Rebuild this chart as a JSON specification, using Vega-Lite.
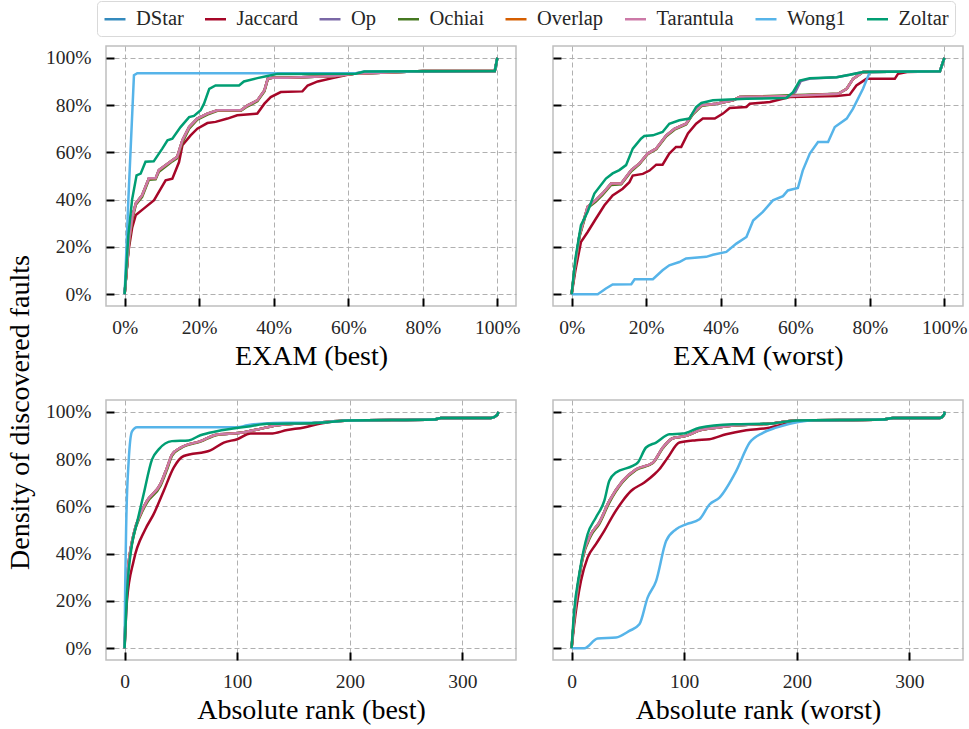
{
"$schema": "https://vega.github.io/schema/vega-lite/v6.json",
"background": "white",
"padding": {"left": 5, "top": 0, "right": 0, "bottom": 5},
"datasets": {
"eb": [
{"m":"DStar","x":0,"y":0},{"m":"DStar","x":1.2,"y":23},{"m":"DStar","x":2.1,"y":33},{"m":"DStar","x":3,"y":38.4},{"m":"DStar","x":4.7,"y":41.9},{"m":"DStar","x":6.5,"y":49},{"m":"DStar","x":8.3,"y":49},{"m":"DStar","x":9.2,"y":52.5},{"m":"DStar","x":12.8,"y":56.7},{"m":"DStar","x":14.1,"y":58.1},{"m":"DStar","x":15.5,"y":65.1},{"m":"DStar","x":17.3,"y":70.7},{"m":"DStar","x":19.5,"y":74.3},{"m":"DStar","x":22.2,"y":76.4},{"m":"DStar","x":24.9,"y":77.8},{"m":"DStar","x":31.2,"y":77.8},{"m":"DStar","x":33,"y":79.9},{"m":"DStar","x":35.6,"y":82},{"m":"DStar","x":37.5,"y":86.2},{"m":"DStar","x":38.4,"y":91.2},{"m":"DStar","x":39.7,"y":91.6},{"m":"DStar","x":43.7,"y":91.6},{"m":"DStar","x":56.3,"y":92.3},{"m":"DStar","x":61.6,"y":93.3},{"m":"DStar","x":74.2,"y":94},{"m":"DStar","x":80,"y":94.4},{"m":"DStar","x":99.3,"y":94.4},{"m":"DStar","x":100,"y":100},
{"m":"Jaccard","x":0,"y":0},{"m":"Jaccard","x":1,"y":18},{"m":"Jaccard","x":2,"y":28},{"m":"Jaccard","x":3,"y":33.5},{"m":"Jaccard","x":5.2,"y":36.3},{"m":"Jaccard","x":7.9,"y":39.8},{"m":"Jaccard","x":9.7,"y":44.7},{"m":"Jaccard","x":11,"y":48.2},{"m":"Jaccard","x":12.8,"y":48.9},{"m":"Jaccard","x":14.6,"y":55.9},{"m":"Jaccard","x":15.5,"y":63},{"m":"Jaccard","x":17.7,"y":67.2},{"m":"Jaccard","x":19.5,"y":70},{"m":"Jaccard","x":22.2,"y":72.4},{"m":"Jaccard","x":24.4,"y":72.9},{"m":"Jaccard","x":27.6,"y":74.3},{"m":"Jaccard","x":30.2,"y":75.7},{"m":"Jaccard","x":35.6,"y":76.4},{"m":"Jaccard","x":37.5,"y":80.6},{"m":"Jaccard","x":39.2,"y":83.4},{"m":"Jaccard","x":41.9,"y":85.5},{"m":"Jaccard","x":47.7,"y":85.8},{"m":"Jaccard","x":49.1,"y":88.3},{"m":"Jaccard","x":51.8,"y":90},{"m":"Jaccard","x":55.8,"y":91.4},{"m":"Jaccard","x":59.8,"y":92.8},{"m":"Jaccard","x":64.3,"y":94},{"m":"Jaccard","x":99.3,"y":94.4},{"m":"Jaccard","x":100,"y":100},
{"m":"Op","x":0,"y":0},{"m":"Op","x":1.2,"y":23},{"m":"Op","x":2.1,"y":33},{"m":"Op","x":3,"y":38.4},{"m":"Op","x":4.7,"y":41.9},{"m":"Op","x":6.5,"y":49},{"m":"Op","x":8.3,"y":49},{"m":"Op","x":9.2,"y":52.5},{"m":"Op","x":12.8,"y":56.7},{"m":"Op","x":14.1,"y":58.1},{"m":"Op","x":15.5,"y":65.1},{"m":"Op","x":17.3,"y":70.7},{"m":"Op","x":19.5,"y":74.3},{"m":"Op","x":22.2,"y":76.4},{"m":"Op","x":24.9,"y":77.8},{"m":"Op","x":31.2,"y":77.8},{"m":"Op","x":33,"y":79.9},{"m":"Op","x":35.6,"y":82},{"m":"Op","x":37.5,"y":86.2},{"m":"Op","x":38.4,"y":91.2},{"m":"Op","x":39.7,"y":91.6},{"m":"Op","x":43.7,"y":91.6},{"m":"Op","x":56.3,"y":92.3},{"m":"Op","x":61.6,"y":93.3},{"m":"Op","x":74.2,"y":94},{"m":"Op","x":80,"y":94.4},{"m":"Op","x":99.3,"y":94.4},{"m":"Op","x":100,"y":100},
{"m":"Ochiai","x":0,"y":0},{"m":"Ochiai","x":1.2,"y":22},{"m":"Ochiai","x":2.1,"y":32},{"m":"Ochiai","x":3,"y":37.8},{"m":"Ochiai","x":4.7,"y":41.2},{"m":"Ochiai","x":6.5,"y":48.4},{"m":"Ochiai","x":8.3,"y":48.6},{"m":"Ochiai","x":9.2,"y":51.8},{"m":"Ochiai","x":12.8,"y":56.2},{"m":"Ochiai","x":14.1,"y":57.5},{"m":"Ochiai","x":15.5,"y":64.2},{"m":"Ochiai","x":17.3,"y":70},{"m":"Ochiai","x":19.5,"y":73.8},{"m":"Ochiai","x":22.2,"y":76},{"m":"Ochiai","x":24.9,"y":77.6},{"m":"Ochiai","x":31.2,"y":77.6},{"m":"Ochiai","x":33,"y":79.5},{"m":"Ochiai","x":35.6,"y":81.6},{"m":"Ochiai","x":37.5,"y":85.8},{"m":"Ochiai","x":38.4,"y":91},{"m":"Ochiai","x":39.7,"y":91.6},{"m":"Ochiai","x":43.7,"y":91.6},{"m":"Ochiai","x":56.3,"y":92.3},{"m":"Ochiai","x":61.6,"y":93.3},{"m":"Ochiai","x":74.2,"y":94},{"m":"Ochiai","x":80,"y":94.4},{"m":"Ochiai","x":99.3,"y":94.4},{"m":"Ochiai","x":100,"y":100},
{"m":"Overlap","x":0,"y":0},{"m":"Overlap","x":1.2,"y":23},{"m":"Overlap","x":2.1,"y":33},{"m":"Overlap","x":3,"y":38.4},{"m":"Overlap","x":4.7,"y":41.9},{"m":"Overlap","x":6.5,"y":49},{"m":"Overlap","x":8.3,"y":49},{"m":"Overlap","x":9.2,"y":52.5},{"m":"Overlap","x":12.8,"y":56.7},{"m":"Overlap","x":14.1,"y":58.1},{"m":"Overlap","x":15.5,"y":65.1},{"m":"Overlap","x":17.3,"y":70.7},{"m":"Overlap","x":19.5,"y":74.3},{"m":"Overlap","x":22.2,"y":76.4},{"m":"Overlap","x":24.9,"y":77.8},{"m":"Overlap","x":31.2,"y":77.8},{"m":"Overlap","x":33,"y":79.9},{"m":"Overlap","x":35.6,"y":82},{"m":"Overlap","x":37.5,"y":86.2},{"m":"Overlap","x":38.4,"y":91.2},{"m":"Overlap","x":39.7,"y":91.6},{"m":"Overlap","x":43.7,"y":91.6},{"m":"Overlap","x":56.3,"y":92.3},{"m":"Overlap","x":61.6,"y":93.3},{"m":"Overlap","x":74.2,"y":94},{"m":"Overlap","x":80,"y":94.4},{"m":"Overlap","x":99.3,"y":94.4},{"m":"Overlap","x":100,"y":100},
{"m":"Tarantula","x":0,"y":0},{"m":"Tarantula","x":1.2,"y":23},{"m":"Tarantula","x":2.1,"y":33},{"m":"Tarantula","x":3,"y":38.4},{"m":"Tarantula","x":4.7,"y":41.9},{"m":"Tarantula","x":6.5,"y":49},{"m":"Tarantula","x":8.3,"y":49},{"m":"Tarantula","x":9.2,"y":52.5},{"m":"Tarantula","x":12.8,"y":56.7},{"m":"Tarantula","x":14.1,"y":58.1},{"m":"Tarantula","x":15.5,"y":65.1},{"m":"Tarantula","x":17.3,"y":70.7},{"m":"Tarantula","x":19.5,"y":74.3},{"m":"Tarantula","x":22.2,"y":76.4},{"m":"Tarantula","x":24.9,"y":77.8},{"m":"Tarantula","x":31.2,"y":77.8},{"m":"Tarantula","x":33,"y":79.9},{"m":"Tarantula","x":35.6,"y":82},{"m":"Tarantula","x":37.5,"y":86.2},{"m":"Tarantula","x":38.4,"y":91.2},{"m":"Tarantula","x":39.7,"y":91.6},{"m":"Tarantula","x":43.7,"y":91.6},{"m":"Tarantula","x":56.3,"y":92.3},{"m":"Tarantula","x":61.6,"y":93.3},{"m":"Tarantula","x":74.2,"y":94},{"m":"Tarantula","x":80,"y":94.4},{"m":"Tarantula","x":99.3,"y":94.4},{"m":"Tarantula","x":100,"y":100},
{"m":"Wong1","x":0,"y":0},{"m":"Wong1","x":1,"y":40},{"m":"Wong1","x":2.5,"y":92.6},{"m":"Wong1","x":3.4,"y":93.5},{"m":"Wong1","x":62,"y":93.5},{"m":"Wong1","x":64.3,"y":94.2},{"m":"Wong1","x":99.3,"y":94.4},{"m":"Wong1","x":100,"y":100},
{"m":"Zoltar","x":0,"y":0},{"m":"Zoltar","x":1,"y":25},{"m":"Zoltar","x":2,"y":40},{"m":"Zoltar","x":3.2,"y":50.3},{"m":"Zoltar","x":4.3,"y":51},{"m":"Zoltar","x":5.6,"y":56},{"m":"Zoltar","x":7.8,"y":56.2},{"m":"Zoltar","x":10.1,"y":61.6},{"m":"Zoltar","x":11.5,"y":65.1},{"m":"Zoltar","x":12.8,"y":65.8},{"m":"Zoltar","x":15,"y":70.7},{"m":"Zoltar","x":17.3,"y":74.9},{"m":"Zoltar","x":18.6,"y":75.4},{"m":"Zoltar","x":20.4,"y":77.8},{"m":"Zoltar","x":21.3,"y":80.6},{"m":"Zoltar","x":22.7,"y":86.9},{"m":"Zoltar","x":24.4,"y":88.3},{"m":"Zoltar","x":30.7,"y":88.3},{"m":"Zoltar","x":32,"y":90},{"m":"Zoltar","x":35.6,"y":91.4},{"m":"Zoltar","x":38.3,"y":92.3},{"m":"Zoltar","x":41,"y":93.2},{"m":"Zoltar","x":62,"y":93.3},{"m":"Zoltar","x":64.3,"y":94.2},{"m":"Zoltar","x":99.3,"y":94.4},{"m":"Zoltar","x":100,"y":100}
],
"ew": [
{"m":"DStar","x":0,"y":0},{"m":"DStar","x":1,"y":13},{"m":"DStar","x":2.1,"y":24.9},{"m":"DStar","x":4.3,"y":37},{"m":"DStar","x":6.5,"y":39.8},{"m":"DStar","x":8.3,"y":42.6},{"m":"DStar","x":10.6,"y":46.8},{"m":"DStar","x":13.3,"y":46.8},{"m":"DStar","x":16,"y":52.5},{"m":"DStar","x":18.2,"y":55.3},{"m":"DStar","x":20.4,"y":59.5},{"m":"DStar","x":22.7,"y":61.6},{"m":"DStar","x":25.4,"y":67.2},{"m":"DStar","x":27.6,"y":70},{"m":"DStar","x":30.7,"y":72.1},{"m":"DStar","x":32.5,"y":76.4},{"m":"DStar","x":34.8,"y":79.9},{"m":"DStar","x":38.8,"y":80.6},{"m":"DStar","x":43.3,"y":82},{"m":"DStar","x":45.1,"y":83.4},{"m":"DStar","x":58.5,"y":83.8},{"m":"DStar","x":71.5,"y":84.8},{"m":"DStar","x":73.8,"y":86.9},{"m":"DStar","x":75.5,"y":91.1},{"m":"DStar","x":78.2,"y":94},{"m":"DStar","x":98.8,"y":94.3},{"m":"DStar","x":100,"y":100},
{"m":"Jaccard","x":0,"y":0},{"m":"Jaccard","x":1,"y":10},{"m":"Jaccard","x":2.5,"y":22.1},{"m":"Jaccard","x":4.3,"y":26.3},{"m":"Jaccard","x":6.5,"y":31.9},{"m":"Jaccard","x":8.8,"y":37.6},{"m":"Jaccard","x":11,"y":41.8},{"m":"Jaccard","x":13.7,"y":44.6},{"m":"Jaccard","x":15.5,"y":47.4},{"m":"Jaccard","x":16.4,"y":50.2},{"m":"Jaccard","x":19.1,"y":50.9},{"m":"Jaccard","x":20.9,"y":52.3},{"m":"Jaccard","x":22.7,"y":54.8},{"m":"Jaccard","x":24.4,"y":54.8},{"m":"Jaccard","x":26.2,"y":59.5},{"m":"Jaccard","x":28,"y":62.3},{"m":"Jaccard","x":29.4,"y":62.3},{"m":"Jaccard","x":31.2,"y":68},{"m":"Jaccard","x":33.4,"y":72.1},{"m":"Jaccard","x":35.2,"y":74.3},{"m":"Jaccard","x":38.4,"y":74.3},{"m":"Jaccard","x":40.6,"y":76.4},{"m":"Jaccard","x":42.4,"y":78.8},{"m":"Jaccard","x":46.9,"y":79.2},{"m":"Jaccard","x":47.8,"y":80.6},{"m":"Jaccard","x":53.2,"y":81.3},{"m":"Jaccard","x":58.5,"y":83.4},{"m":"Jaccard","x":71.1,"y":83.8},{"m":"Jaccard","x":74.6,"y":84.4},{"m":"Jaccard","x":76.4,"y":88.3},{"m":"Jaccard","x":79.1,"y":91.1},{"m":"Jaccard","x":86.7,"y":91.1},{"m":"Jaccard","x":87.6,"y":93.3},{"m":"Jaccard","x":90,"y":94},{"m":"Jaccard","x":98.8,"y":94.3},{"m":"Jaccard","x":100,"y":100},
{"m":"Op","x":0,"y":0},{"m":"Op","x":1,"y":13},{"m":"Op","x":2.1,"y":24.9},{"m":"Op","x":4.3,"y":37},{"m":"Op","x":6.5,"y":39.8},{"m":"Op","x":8.3,"y":42.6},{"m":"Op","x":10.6,"y":46.8},{"m":"Op","x":13.3,"y":46.8},{"m":"Op","x":16,"y":52.5},{"m":"Op","x":18.2,"y":55.3},{"m":"Op","x":20.4,"y":59.5},{"m":"Op","x":22.7,"y":61.6},{"m":"Op","x":25.4,"y":67.2},{"m":"Op","x":27.6,"y":70},{"m":"Op","x":30.7,"y":72.1},{"m":"Op","x":32.5,"y":76.4},{"m":"Op","x":34.8,"y":79.9},{"m":"Op","x":38.8,"y":80.6},{"m":"Op","x":43.3,"y":82},{"m":"Op","x":45.1,"y":83.4},{"m":"Op","x":58.5,"y":83.8},{"m":"Op","x":60,"y":85.5},{"m":"Op","x":61.5,"y":90.2},{"m":"Op","x":64,"y":91.2},{"m":"Op","x":71.1,"y":91.8},{"m":"Op","x":74.6,"y":92.8},{"m":"Op","x":78.2,"y":94},{"m":"Op","x":98.8,"y":94.3},{"m":"Op","x":100,"y":100},
{"m":"Ochiai","x":0,"y":0},{"m":"Ochiai","x":1,"y":12.5},{"m":"Ochiai","x":2.1,"y":24.2},{"m":"Ochiai","x":4.3,"y":36.4},{"m":"Ochiai","x":6.5,"y":39.2},{"m":"Ochiai","x":8.3,"y":42},{"m":"Ochiai","x":10.6,"y":46.2},{"m":"Ochiai","x":13.3,"y":46.5},{"m":"Ochiai","x":16,"y":52},{"m":"Ochiai","x":18.2,"y":55},{"m":"Ochiai","x":20.4,"y":59.2},{"m":"Ochiai","x":22.7,"y":61.3},{"m":"Ochiai","x":25.4,"y":66.8},{"m":"Ochiai","x":27.6,"y":69.6},{"m":"Ochiai","x":30.7,"y":71.8},{"m":"Ochiai","x":32.5,"y":76},{"m":"Ochiai","x":34.8,"y":79.6},{"m":"Ochiai","x":38.8,"y":80.6},{"m":"Ochiai","x":43.3,"y":82},{"m":"Ochiai","x":45.1,"y":83.4},{"m":"Ochiai","x":58.5,"y":84.2},{"m":"Ochiai","x":71.5,"y":84.8},{"m":"Ochiai","x":73.8,"y":86.9},{"m":"Ochiai","x":75.5,"y":91.1},{"m":"Ochiai","x":78.2,"y":94},{"m":"Ochiai","x":98.8,"y":94.3},{"m":"Ochiai","x":100,"y":100},
{"m":"Overlap","x":0,"y":0},{"m":"Overlap","x":1,"y":13},{"m":"Overlap","x":2.1,"y":24.9},{"m":"Overlap","x":4.3,"y":37},{"m":"Overlap","x":6.5,"y":39.8},{"m":"Overlap","x":8.3,"y":42.6},{"m":"Overlap","x":10.6,"y":46.8},{"m":"Overlap","x":13.3,"y":46.8},{"m":"Overlap","x":16,"y":52.5},{"m":"Overlap","x":18.2,"y":55.3},{"m":"Overlap","x":20.4,"y":59.5},{"m":"Overlap","x":22.7,"y":61.6},{"m":"Overlap","x":25.4,"y":67.2},{"m":"Overlap","x":27.6,"y":70},{"m":"Overlap","x":30.7,"y":72.1},{"m":"Overlap","x":32.5,"y":76.4},{"m":"Overlap","x":34.8,"y":79.9},{"m":"Overlap","x":38.8,"y":80.6},{"m":"Overlap","x":43.3,"y":82},{"m":"Overlap","x":45.1,"y":83.4},{"m":"Overlap","x":58.5,"y":83.8},{"m":"Overlap","x":71.5,"y":84.8},{"m":"Overlap","x":73.8,"y":86.9},{"m":"Overlap","x":75.5,"y":91.1},{"m":"Overlap","x":78.2,"y":94},{"m":"Overlap","x":98.8,"y":94.3},{"m":"Overlap","x":100,"y":100},
{"m":"Tarantula","x":0,"y":0},{"m":"Tarantula","x":1,"y":13},{"m":"Tarantula","x":2.1,"y":24.9},{"m":"Tarantula","x":4.3,"y":37},{"m":"Tarantula","x":6.5,"y":39.8},{"m":"Tarantula","x":8.3,"y":42.6},{"m":"Tarantula","x":10.6,"y":46.8},{"m":"Tarantula","x":13.3,"y":46.8},{"m":"Tarantula","x":16,"y":52.5},{"m":"Tarantula","x":18.2,"y":55.3},{"m":"Tarantula","x":20.4,"y":59.5},{"m":"Tarantula","x":22.7,"y":61.6},{"m":"Tarantula","x":25.4,"y":67.2},{"m":"Tarantula","x":27.6,"y":70},{"m":"Tarantula","x":30.7,"y":72.1},{"m":"Tarantula","x":32.5,"y":76.4},{"m":"Tarantula","x":34.8,"y":79.9},{"m":"Tarantula","x":38.8,"y":80.6},{"m":"Tarantula","x":43.3,"y":82},{"m":"Tarantula","x":45.1,"y":83.4},{"m":"Tarantula","x":58.5,"y":83.8},{"m":"Tarantula","x":71.5,"y":84.8},{"m":"Tarantula","x":73.8,"y":86.9},{"m":"Tarantula","x":75.5,"y":91.1},{"m":"Tarantula","x":78.2,"y":94},{"m":"Tarantula","x":98.8,"y":94.3},{"m":"Tarantula","x":100,"y":100},
{"m":"Wong1","x":0,"y":0},{"m":"Wong1","x":7,"y":0},{"m":"Wong1","x":9.2,"y":2.4},{"m":"Wong1","x":11,"y":4.1},{"m":"Wong1","x":16,"y":4.2},{"m":"Wong1","x":16.9,"y":6.3},{"m":"Wong1","x":21.8,"y":6.3},{"m":"Wong1","x":24.4,"y":10.1},{"m":"Wong1","x":26.2,"y":12.2},{"m":"Wong1","x":28.9,"y":13.6},{"m":"Wong1","x":30.7,"y":15.1},{"m":"Wong1","x":36.1,"y":15.8},{"m":"Wong1","x":37.9,"y":16.7},{"m":"Wong1","x":41.5,"y":17.9},{"m":"Wong1","x":44.2,"y":21.4},{"m":"Wong1","x":46.9,"y":24.2},{"m":"Wong1","x":48.7,"y":31.2},{"m":"Wong1","x":51.3,"y":34.8},{"m":"Wong1","x":54,"y":39.7},{"m":"Wong1","x":56.7,"y":41.5},{"m":"Wong1","x":58,"y":43.9},{"m":"Wong1","x":60.7,"y":44.9},{"m":"Wong1","x":62,"y":52.3},{"m":"Wong1","x":63.9,"y":59.5},{"m":"Wong1","x":66.1,"y":64.4},{"m":"Wong1","x":68.8,"y":64.4},{"m":"Wong1","x":70.6,"y":70.7},{"m":"Wong1","x":73.8,"y":74.3},{"m":"Wong1","x":75.5,"y":78.5},{"m":"Wong1","x":78.2,"y":87},{"m":"Wong1","x":80,"y":94},{"m":"Wong1","x":98.8,"y":94.3},{"m":"Wong1","x":100,"y":100},
{"m":"Zoltar","x":0,"y":0},{"m":"Zoltar","x":1,"y":15},{"m":"Zoltar","x":2.5,"y":29.2},{"m":"Zoltar","x":4.3,"y":34.9},{"m":"Zoltar","x":6.1,"y":42.6},{"m":"Zoltar","x":9.2,"y":48.9},{"m":"Zoltar","x":11,"y":51.1},{"m":"Zoltar","x":12.8,"y":52.5},{"m":"Zoltar","x":14.6,"y":54.6},{"m":"Zoltar","x":16.4,"y":61.6},{"m":"Zoltar","x":18.6,"y":65.8},{"m":"Zoltar","x":19.5,"y":66.9},{"m":"Zoltar","x":21.8,"y":67.2},{"m":"Zoltar","x":24.4,"y":68.6},{"m":"Zoltar","x":26.2,"y":72.1},{"m":"Zoltar","x":28.9,"y":73.6},{"m":"Zoltar","x":31.6,"y":74.3},{"m":"Zoltar","x":33.4,"y":79.2},{"m":"Zoltar","x":34.8,"y":80.9},{"m":"Zoltar","x":37.9,"y":82},{"m":"Zoltar","x":46.9,"y":82.7},{"m":"Zoltar","x":57.6,"y":83},{"m":"Zoltar","x":59.4,"y":85.5},{"m":"Zoltar","x":61.2,"y":90.4},{"m":"Zoltar","x":63.9,"y":91.4},{"m":"Zoltar","x":71.1,"y":91.8},{"m":"Zoltar","x":74.6,"y":92.8},{"m":"Zoltar","x":78.2,"y":94},{"m":"Zoltar","x":98.8,"y":94.3},{"m":"Zoltar","x":100,"y":100}
],
"rb": [
{"m":"DStar","x":0,"y":0},{"m":"DStar","x":2.1,"y":28.4},{"m":"DStar","x":8,"y":48.2},{"m":"DStar","x":14,"y":56.7},{"m":"DStar","x":19.9,"y":62.3},{"m":"DStar","x":31.8,"y":69.4},{"m":"DStar","x":37.7,"y":76.4},{"m":"DStar","x":42.2,"y":82},{"m":"DStar","x":49.6,"y":84.8},{"m":"DStar","x":67.4,"y":87.6},{"m":"DStar","x":82.2,"y":90.4},{"m":"DStar","x":102.9,"y":91.1},{"m":"DStar","x":117.8,"y":92.5},{"m":"DStar","x":135.6,"y":94.3},{"m":"DStar","x":168.2,"y":95.3},{"m":"DStar","x":199.3,"y":96.3},{"m":"DStar","x":274.9,"y":96.7},{"m":"DStar","x":280.9,"y":97.4},{"m":"DStar","x":325.4,"y":97.4},{"m":"DStar","x":330.7,"y":98.6},{"m":"DStar","x":331.9,"y":100},
{"m":"Jaccard","x":0,"y":0},{"m":"Jaccard","x":2.1,"y":20},{"m":"Jaccard","x":8,"y":36.9},{"m":"Jaccard","x":18.4,"y":50.3},{"m":"Jaccard","x":25.8,"y":56.7},{"m":"Jaccard","x":34.7,"y":66.5},{"m":"Jaccard","x":43.6,"y":76.4},{"m":"Jaccard","x":52.5,"y":81.3},{"m":"Jaccard","x":76.2,"y":83.7},{"m":"Jaccard","x":88.1,"y":87},{"m":"Jaccard","x":100,"y":88.4},{"m":"Jaccard","x":111.8,"y":90.8},{"m":"Jaccard","x":129.6,"y":90.8},{"m":"Jaccard","x":144.4,"y":92.3},{"m":"Jaccard","x":159.3,"y":93.4},{"m":"Jaccard","x":174.1,"y":95.1},{"m":"Jaccard","x":199.3,"y":96.3},{"m":"Jaccard","x":274.9,"y":96.7},{"m":"Jaccard","x":280.9,"y":97.4},{"m":"Jaccard","x":325.4,"y":97.4},{"m":"Jaccard","x":330.7,"y":98.6},{"m":"Jaccard","x":331.9,"y":100},
{"m":"Op","x":0,"y":0},{"m":"Op","x":2.1,"y":28.4},{"m":"Op","x":8,"y":48.2},{"m":"Op","x":14,"y":56.7},{"m":"Op","x":19.9,"y":62.3},{"m":"Op","x":31.8,"y":69.4},{"m":"Op","x":37.7,"y":76.4},{"m":"Op","x":42.2,"y":82},{"m":"Op","x":49.6,"y":84.8},{"m":"Op","x":67.4,"y":87.6},{"m":"Op","x":82.2,"y":90.4},{"m":"Op","x":102.9,"y":91.1},{"m":"Op","x":117.8,"y":92.5},{"m":"Op","x":135.6,"y":94.3},{"m":"Op","x":168.2,"y":95.3},{"m":"Op","x":199.3,"y":96.3},{"m":"Op","x":274.9,"y":96.7},{"m":"Op","x":280.9,"y":97.4},{"m":"Op","x":325.4,"y":97.4},{"m":"Op","x":330.7,"y":98.6},{"m":"Op","x":331.9,"y":100},
{"m":"Ochiai","x":0,"y":0},{"m":"Ochiai","x":2.1,"y":27.6},{"m":"Ochiai","x":8,"y":47.4},{"m":"Ochiai","x":14,"y":56},{"m":"Ochiai","x":19.9,"y":61.6},{"m":"Ochiai","x":31.8,"y":68.6},{"m":"Ochiai","x":37.7,"y":75.6},{"m":"Ochiai","x":42.2,"y":81.5},{"m":"Ochiai","x":49.6,"y":84.5},{"m":"Ochiai","x":67.4,"y":87.4},{"m":"Ochiai","x":82.2,"y":90.2},{"m":"Ochiai","x":102.9,"y":91.1},{"m":"Ochiai","x":117.8,"y":92.5},{"m":"Ochiai","x":135.6,"y":94.3},{"m":"Ochiai","x":168.2,"y":95.3},{"m":"Ochiai","x":199.3,"y":96.3},{"m":"Ochiai","x":274.9,"y":96.7},{"m":"Ochiai","x":280.9,"y":97.4},{"m":"Ochiai","x":325.4,"y":97.4},{"m":"Ochiai","x":330.7,"y":98.6},{"m":"Ochiai","x":331.9,"y":100},
{"m":"Overlap","x":0,"y":0},{"m":"Overlap","x":2.1,"y":28.4},{"m":"Overlap","x":8,"y":48.2},{"m":"Overlap","x":14,"y":56.7},{"m":"Overlap","x":19.9,"y":62.3},{"m":"Overlap","x":31.8,"y":69.4},{"m":"Overlap","x":37.7,"y":76.4},{"m":"Overlap","x":42.2,"y":82},{"m":"Overlap","x":49.6,"y":84.8},{"m":"Overlap","x":67.4,"y":87.6},{"m":"Overlap","x":82.2,"y":90.4},{"m":"Overlap","x":102.9,"y":91.1},{"m":"Overlap","x":117.8,"y":92.5},{"m":"Overlap","x":135.6,"y":94.3},{"m":"Overlap","x":168.2,"y":95.3},{"m":"Overlap","x":199.3,"y":96.3},{"m":"Overlap","x":274.9,"y":96.7},{"m":"Overlap","x":280.9,"y":97.4},{"m":"Overlap","x":325.4,"y":97.4},{"m":"Overlap","x":330.7,"y":98.6},{"m":"Overlap","x":331.9,"y":100},
{"m":"Tarantula","x":0,"y":0},{"m":"Tarantula","x":2.1,"y":28.4},{"m":"Tarantula","x":8,"y":48.2},{"m":"Tarantula","x":14,"y":56.7},{"m":"Tarantula","x":19.9,"y":62.3},{"m":"Tarantula","x":31.8,"y":69.4},{"m":"Tarantula","x":37.7,"y":76.4},{"m":"Tarantula","x":42.2,"y":82},{"m":"Tarantula","x":49.6,"y":84.8},{"m":"Tarantula","x":67.4,"y":87.6},{"m":"Tarantula","x":82.2,"y":90.4},{"m":"Tarantula","x":102.9,"y":91.1},{"m":"Tarantula","x":117.8,"y":92.5},{"m":"Tarantula","x":135.6,"y":94.3},{"m":"Tarantula","x":168.2,"y":95.3},{"m":"Tarantula","x":199.3,"y":96.3},{"m":"Tarantula","x":274.9,"y":96.7},{"m":"Tarantula","x":280.9,"y":97.4},{"m":"Tarantula","x":325.4,"y":97.4},{"m":"Tarantula","x":330.7,"y":98.6},{"m":"Tarantula","x":331.9,"y":100},
{"m":"Wong1","x":0,"y":0},{"m":"Wong1","x":0.5,"y":25},{"m":"Wong1","x":1.5,"y":53.6},{"m":"Wong1","x":3.6,"y":79},{"m":"Wong1","x":6.6,"y":91.7},{"m":"Wong1","x":11,"y":93.5},{"m":"Wong1","x":100,"y":93.5},{"m":"Wong1","x":108.9,"y":94.3},{"m":"Wong1","x":132.6,"y":95.3},{"m":"Wong1","x":171.1,"y":95.4},{"m":"Wong1","x":199.3,"y":96.3},{"m":"Wong1","x":274.9,"y":96.7},{"m":"Wong1","x":280.9,"y":97.4},{"m":"Wong1","x":325.4,"y":97.4},{"m":"Wong1","x":330.7,"y":98.6},{"m":"Wong1","x":331.9,"y":100},
{"m":"Zoltar","x":0,"y":0},{"m":"Zoltar","x":2.1,"y":22.9},{"m":"Zoltar","x":6.6,"y":44},{"m":"Zoltar","x":11,"y":53.1},{"m":"Zoltar","x":16.9,"y":65.1},{"m":"Zoltar","x":24.3,"y":79.8},{"m":"Zoltar","x":30.3,"y":84.1},{"m":"Zoltar","x":42,"y":87.6},{"m":"Zoltar","x":56.8,"y":87.9},{"m":"Zoltar","x":67.3,"y":90.1},{"m":"Zoltar","x":82.1,"y":91.8},{"m":"Zoltar","x":111.8,"y":93.9},{"m":"Zoltar","x":126.7,"y":94.9},{"m":"Zoltar","x":171.1,"y":95.3},{"m":"Zoltar","x":199.3,"y":96.3},{"m":"Zoltar","x":274.9,"y":96.7},{"m":"Zoltar","x":280.9,"y":97.4},{"m":"Zoltar","x":325.4,"y":97.4},{"m":"Zoltar","x":330.7,"y":98.6},{"m":"Zoltar","x":331.9,"y":100}
],
"rw": [
{"m":"DStar","x":0,"y":0},{"m":"DStar","x":2.3,"y":12.9},{"m":"DStar","x":9.7,"y":38.3},{"m":"DStar","x":17.1,"y":48.2},{"m":"DStar","x":24.5,"y":53.1},{"m":"DStar","x":33.5,"y":62.3},{"m":"DStar","x":45.4,"y":70.8},{"m":"DStar","x":57.3,"y":75.7},{"m":"DStar","x":72.1,"y":78.5},{"m":"DStar","x":81,"y":84.9},{"m":"DStar","x":89.9,"y":88.8},{"m":"DStar","x":101.7,"y":89.8},{"m":"DStar","x":113.6,"y":92.2},{"m":"DStar","x":128.4,"y":93.3},{"m":"DStar","x":146.2,"y":94.3},{"m":"DStar","x":175.7,"y":95},{"m":"DStar","x":199.4,"y":96.3},{"m":"DStar","x":276.4,"y":96.7},{"m":"DStar","x":285.3,"y":97.4},{"m":"DStar","x":326.8,"y":97.4},{"m":"DStar","x":330.7,"y":98.8},{"m":"DStar","x":331.3,"y":100},
{"m":"Jaccard","x":0,"y":0},{"m":"Jaccard","x":2.3,"y":10},{"m":"Jaccard","x":8.3,"y":28.4},{"m":"Jaccard","x":14.2,"y":38.3},{"m":"Jaccard","x":21.6,"y":44},{"m":"Jaccard","x":29,"y":49.6},{"m":"Jaccard","x":36.4,"y":55.9},{"m":"Jaccard","x":45.3,"y":62.3},{"m":"Jaccard","x":52.7,"y":66.5},{"m":"Jaccard","x":64.6,"y":70.1},{"m":"Jaccard","x":73.5,"y":73.6},{"m":"Jaccard","x":77.9,"y":75.7},{"m":"Jaccard","x":85.3,"y":80.6},{"m":"Jaccard","x":95.7,"y":87},{"m":"Jaccard","x":110.5,"y":88},{"m":"Jaccard","x":122.4,"y":88.4},{"m":"Jaccard","x":137.2,"y":90.5},{"m":"Jaccard","x":155,"y":92.2},{"m":"Jaccard","x":175.7,"y":93.3},{"m":"Jaccard","x":187.6,"y":94.7},{"m":"Jaccard","x":199.4,"y":96.1},{"m":"Jaccard","x":276.4,"y":96.7},{"m":"Jaccard","x":285.3,"y":97.4},{"m":"Jaccard","x":326.8,"y":97.4},{"m":"Jaccard","x":330.7,"y":98.8},{"m":"Jaccard","x":331.3,"y":100},
{"m":"Op","x":0,"y":0},{"m":"Op","x":2.3,"y":12.9},{"m":"Op","x":9.7,"y":38.3},{"m":"Op","x":17.1,"y":48.2},{"m":"Op","x":24.5,"y":53.1},{"m":"Op","x":33.5,"y":62.3},{"m":"Op","x":45.4,"y":70.8},{"m":"Op","x":57.3,"y":75.7},{"m":"Op","x":72.1,"y":78.5},{"m":"Op","x":81,"y":84.9},{"m":"Op","x":89.9,"y":88.8},{"m":"Op","x":101.7,"y":89.8},{"m":"Op","x":113.6,"y":92.2},{"m":"Op","x":128.4,"y":93.3},{"m":"Op","x":146.2,"y":94.3},{"m":"Op","x":175.7,"y":95},{"m":"Op","x":199.4,"y":96.3},{"m":"Op","x":276.4,"y":96.7},{"m":"Op","x":285.3,"y":97.4},{"m":"Op","x":326.8,"y":97.4},{"m":"Op","x":330.7,"y":98.8},{"m":"Op","x":331.3,"y":100},
{"m":"Ochiai","x":0,"y":0},{"m":"Ochiai","x":2.3,"y":12.4},{"m":"Ochiai","x":9.7,"y":37.6},{"m":"Ochiai","x":17.1,"y":47.5},{"m":"Ochiai","x":24.5,"y":52.5},{"m":"Ochiai","x":33.5,"y":61.6},{"m":"Ochiai","x":45.4,"y":70.3},{"m":"Ochiai","x":57.3,"y":75.4},{"m":"Ochiai","x":72.1,"y":78.3},{"m":"Ochiai","x":81,"y":84.6},{"m":"Ochiai","x":89.9,"y":88.8},{"m":"Ochiai","x":101.7,"y":89.8},{"m":"Ochiai","x":113.6,"y":92.2},{"m":"Ochiai","x":128.4,"y":93.3},{"m":"Ochiai","x":146.2,"y":94.3},{"m":"Ochiai","x":175.7,"y":95},{"m":"Ochiai","x":199.4,"y":96.3},{"m":"Ochiai","x":276.4,"y":96.7},{"m":"Ochiai","x":285.3,"y":97.4},{"m":"Ochiai","x":326.8,"y":97.4},{"m":"Ochiai","x":330.7,"y":98.8},{"m":"Ochiai","x":331.3,"y":100},
{"m":"Overlap","x":0,"y":0},{"m":"Overlap","x":2.3,"y":12.9},{"m":"Overlap","x":9.7,"y":38.3},{"m":"Overlap","x":17.1,"y":48.2},{"m":"Overlap","x":24.5,"y":53.1},{"m":"Overlap","x":33.5,"y":62.3},{"m":"Overlap","x":45.4,"y":70.8},{"m":"Overlap","x":57.3,"y":75.7},{"m":"Overlap","x":72.1,"y":78.5},{"m":"Overlap","x":81,"y":84.9},{"m":"Overlap","x":89.9,"y":88.8},{"m":"Overlap","x":101.7,"y":89.8},{"m":"Overlap","x":113.6,"y":92.2},{"m":"Overlap","x":128.4,"y":93.3},{"m":"Overlap","x":146.2,"y":94.3},{"m":"Overlap","x":175.7,"y":95},{"m":"Overlap","x":199.4,"y":96.3},{"m":"Overlap","x":276.4,"y":96.7},{"m":"Overlap","x":285.3,"y":97.4},{"m":"Overlap","x":326.8,"y":97.4},{"m":"Overlap","x":330.7,"y":98.8},{"m":"Overlap","x":331.3,"y":100},
{"m":"Tarantula","x":0,"y":0},{"m":"Tarantula","x":2.3,"y":12.9},{"m":"Tarantula","x":9.7,"y":38.3},{"m":"Tarantula","x":17.1,"y":48.2},{"m":"Tarantula","x":24.5,"y":53.1},{"m":"Tarantula","x":33.5,"y":62.3},{"m":"Tarantula","x":45.4,"y":70.8},{"m":"Tarantula","x":57.3,"y":75.7},{"m":"Tarantula","x":72.1,"y":78.5},{"m":"Tarantula","x":81,"y":84.9},{"m":"Tarantula","x":89.9,"y":88.8},{"m":"Tarantula","x":101.7,"y":89.8},{"m":"Tarantula","x":113.6,"y":92.2},{"m":"Tarantula","x":128.4,"y":93.3},{"m":"Tarantula","x":146.2,"y":94.3},{"m":"Tarantula","x":175.7,"y":95},{"m":"Tarantula","x":199.4,"y":96.3},{"m":"Tarantula","x":276.4,"y":96.7},{"m":"Tarantula","x":285.3,"y":97.4},{"m":"Tarantula","x":326.8,"y":97.4},{"m":"Tarantula","x":330.7,"y":98.8},{"m":"Tarantula","x":331.3,"y":100},
{"m":"Wong1","x":0,"y":0},{"m":"Wong1","x":11.3,"y":0},{"m":"Wong1","x":23.1,"y":4.1},{"m":"Wong1","x":39.4,"y":4.5},{"m":"Wong1","x":51.3,"y":7.3},{"m":"Wong1","x":60.2,"y":10.1},{"m":"Wong1","x":67.5,"y":21.4},{"m":"Wong1","x":75,"y":28.4},{"m":"Wong1","x":83.9,"y":45.3},{"m":"Wong1","x":92.8,"y":50.3},{"m":"Wong1","x":101.6,"y":52.4},{"m":"Wong1","x":113.5,"y":54.5},{"m":"Wong1","x":122.4,"y":60.8},{"m":"Wong1","x":131.3,"y":63.7},{"m":"Wong1","x":146.1,"y":74.9},{"m":"Wong1","x":158,"y":86.9},{"m":"Wong1","x":169.9,"y":91.1},{"m":"Wong1","x":181.7,"y":93.3},{"m":"Wong1","x":202.4,"y":95.8},{"m":"Wong1","x":215,"y":96.4},{"m":"Wong1","x":276.4,"y":96.7},{"m":"Wong1","x":285.3,"y":97.4},{"m":"Wong1","x":326.8,"y":97.4},{"m":"Wong1","x":330.7,"y":98.8},{"m":"Wong1","x":331.3,"y":100},
{"m":"Zoltar","x":0,"y":0},{"m":"Zoltar","x":2.3,"y":15.8},{"m":"Zoltar","x":6.8,"y":31.3},{"m":"Zoltar","x":14.2,"y":48.2},{"m":"Zoltar","x":21.6,"y":55.3},{"m":"Zoltar","x":29,"y":62.3},{"m":"Zoltar","x":33.5,"y":70.8},{"m":"Zoltar","x":39.4,"y":74.3},{"m":"Zoltar","x":54.2,"y":77.1},{"m":"Zoltar","x":58.7,"y":78.5},{"m":"Zoltar","x":66.1,"y":84.9},{"m":"Zoltar","x":75,"y":87},{"m":"Zoltar","x":86.8,"y":90.5},{"m":"Zoltar","x":98.7,"y":90.8},{"m":"Zoltar","x":113.5,"y":93.3},{"m":"Zoltar","x":143.1,"y":94.7},{"m":"Zoltar","x":175.7,"y":95},{"m":"Zoltar","x":199.4,"y":96.3},{"m":"Zoltar","x":276.4,"y":96.7},{"m":"Zoltar","x":285.3,"y":97.4},{"m":"Zoltar","x":326.8,"y":97.4},{"m":"Zoltar","x":330.7,"y":98.8},{"m":"Zoltar","x":331.3,"y":100}
]
},
"columns": 2,
"bounds": "flush",
"spacing": {"row": 94, "column": 37},
"concat": [
{
"width": 410, "height": 260,
"data": {"name": "eb"},
"mark": {"type": "line", "strokeWidth": 2.5, "interpolate": "linear"},
"encoding": {
"x": {"field": "x", "type": "quantitative", "scale": {"domain": [-5, 105], "nice": false, "zero": false}, "axis": {"values": [0,20,40,60,80,100], "labelExpr": "datum.value + '%'", "title": "EXAM (best)"}},
"y": {"field": "y", "type": "quantitative", "scale": {"domain": [-5, 105], "nice": false, "zero": false}, "axis": {"values": [0,20,40,60,80,100], "labelExpr": "datum.value + '%'", "title": "Density of discovered faults", "titleY": 366}},
"color": {"field": "m", "type": "nominal", "scale": {"domain": ["DStar","Jaccard","Op","Ochiai","Overlap","Tarantula","Wong1","Zoltar"], "range": ["#348ABD","#A60628","#7A68A6","#467821","#D55E00","#CC79A7","#56B4E9","#009E73"]}, "legend": {"title": null, "orient": "none", "legendX": -9, "legendY": -45}}
}
},
{
"width": 410, "height": 260,
"data": {"name": "ew"},
"mark": {"type": "line", "strokeWidth": 2.5, "interpolate": "linear"},
"encoding": {
"x": {"field": "x", "type": "quantitative", "scale": {"domain": [-5, 105], "nice": false, "zero": false}, "axis": {"values": [0,20,40,60,80,100], "labelExpr": "datum.value + '%'", "title": "EXAM (worst)"}},
"y": {"field": "y", "type": "quantitative", "scale": {"domain": [-5, 105], "nice": false, "zero": false}, "axis": {"values": [0,20,40,60,80,100], "labels": false, "title": null}},
"color": {"field": "m", "type": "nominal", "scale": {"domain": ["DStar","Jaccard","Op","Ochiai","Overlap","Tarantula","Wong1","Zoltar"], "range": ["#348ABD","#A60628","#7A68A6","#467821","#D55E00","#CC79A7","#56B4E9","#009E73"]}, "legend": {"title": null, "orient": "none", "legendX": -9, "legendY": -45}}
}
},
{
"width": 410, "height": 260,
"data": {"name": "rb"},
"mark": {"type": "line", "strokeWidth": 2.5, "interpolate": "monotone"},
"encoding": {
"x": {"field": "x", "type": "quantitative", "scale": {"domain": [-16.5, 347.5], "nice": false, "zero": false}, "axis": {"values": [0,100,200,300], "title": "Absolute rank (best)"}},
"y": {"field": "y", "type": "quantitative", "scale": {"domain": [-5, 105], "nice": false, "zero": false}, "axis": {"values": [0,20,40,60,80,100], "labelExpr": "datum.value + '%'", "title": null}},
"color": {"field": "m", "type": "nominal", "scale": {"domain": ["DStar","Jaccard","Op","Ochiai","Overlap","Tarantula","Wong1","Zoltar"], "range": ["#348ABD","#A60628","#7A68A6","#467821","#D55E00","#CC79A7","#56B4E9","#009E73"]}, "legend": {"title": null, "orient": "none", "legendX": -9, "legendY": -45}}
}
},
{
"width": 410, "height": 260,
"data": {"name": "rw"},
"mark": {"type": "line", "strokeWidth": 2.5, "interpolate": "monotone"},
"encoding": {
"x": {"field": "x", "type": "quantitative", "scale": {"domain": [-16.5, 347.5], "nice": false, "zero": false}, "axis": {"values": [0,100,200,300], "title": "Absolute rank (worst)"}},
"y": {"field": "y", "type": "quantitative", "scale": {"domain": [-5, 105], "nice": false, "zero": false}, "axis": {"values": [0,20,40,60,80,100], "labels": false, "title": null}},
"color": {"field": "m", "type": "nominal", "scale": {"domain": ["DStar","Jaccard","Op","Ochiai","Overlap","Tarantula","Wong1","Zoltar"], "range": ["#348ABD","#A60628","#7A68A6","#467821","#D55E00","#CC79A7","#56B4E9","#009E73"]}, "legend": {"title": null, "orient": "none", "legendX": -9, "legendY": -45}}
}
}
],
"config": {
"font": "Liberation Serif",
"view": {"stroke": "#bfbfbf", "strokeWidth": 1.5},
"axis": {"domain": false, "grid": true, "gridColor": "#b0b0b0", "gridDash": [5, 3], "gridWidth": 1, "ticks": true, "tickColor": "#000000", "tickSize": -8, "tickWidth": 2, "labelFont": "Liberation Serif", "labelFontSize": 19.5, "labelColor": "#262626", "titleFont": "Liberation Serif", "titleFontSize": 28, "titleFontWeight": "normal", "titleColor": "#000000"},
"axisX": {"labelPadding": 20, "titlePadding": 6},
"axisY": {"labelPadding": 23, "titlePadding": 11},
"legend": {"direction": "horizontal", "columns": 8, "symbolType": "stroke", "symbolSize": 441, "symbolStrokeWidth": 2.5, "labelFont": "Liberation Serif", "labelFontSize": 20.5, "labelColor": "#262626", "labelOffset": 9, "columnPadding": 15.5, "padding": 6, "strokeColor": "#d9d9d9", "cornerRadius": 4, "fillColor": "white", "labelLimit": 0}
}
}
